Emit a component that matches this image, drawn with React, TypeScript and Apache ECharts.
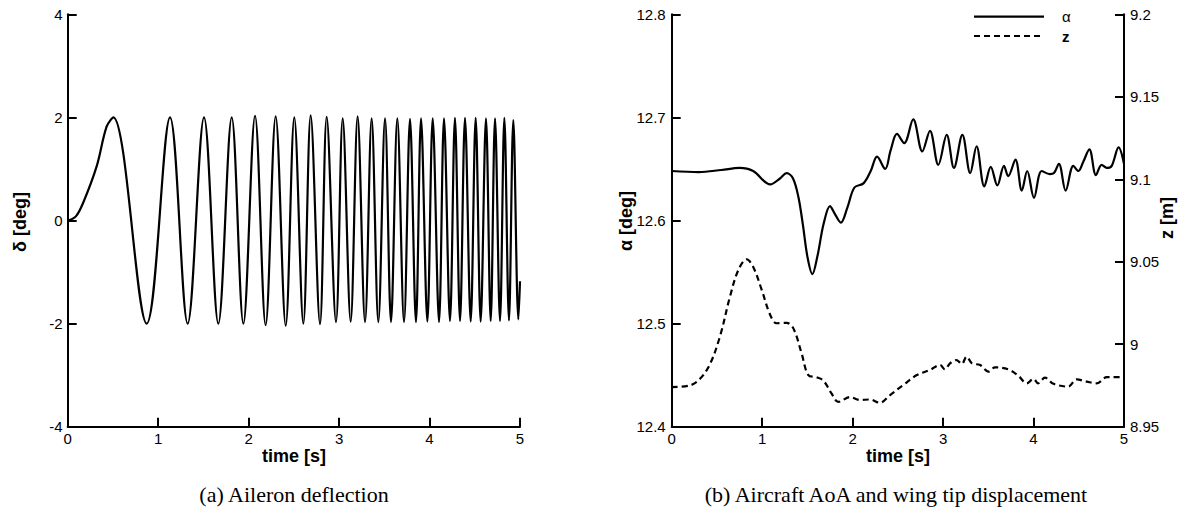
import { useEffect, useRef } from "react";
import * as echarts from "echarts";

// ---- data ----
const timeTicks = [0, 1, 2, 3, 4, 5];

// aileron deflection: start-up ramp, then successive peaks / troughs of the sweep
const deltaTime = [
  0, 0.09, 0.17, 0.32, 0.43, 0.504, 0.873, 1.131, 1.326, 1.507, 1.665, 1.813, 1.942, 2.071, 2.188,
  2.299, 2.41, 2.505, 2.605, 2.686, 2.789, 2.863, 2.966, 3.04, 3.128, 3.205, 3.287, 3.36, 3.434,
  3.508, 3.574, 3.644, 3.718, 3.784, 3.85, 3.906, 3.976, 4.035, 4.105, 4.16, 4.226, 4.281, 4.337,
  4.392, 4.455, 4.51, 4.565, 4.624, 4.676, 4.724, 4.779, 4.827, 4.878, 4.926, 4.982, 5.0,
];
const deltaDeg = [
  0, 0.08, 0.34, 1.05, 1.82, 2.0, -2.0, 2.0, -2.0, 2.0, -2.0, 2.0, -2.0, 2.03, -2.03,
  2.02, -2.04, 2.0, -2.0, 2.04, -2.01, 2.01, -1.97, 1.98, -1.96, 2.02, -1.97, 1.98, -1.97,
  1.98, -1.97, 1.98, -1.97, 1.97, -1.97, 1.98, -1.96, 1.98, -1.97, 1.98, -1.95, 1.99, -1.95,
  1.99, -1.96, 1.99, -1.96, 1.98, -1.95, 1.98, -1.95, 1.99, -1.94, 1.95, -1.92, -1.18,
];

// aircraft angle of attack
const alphaTime = [
  0, 0.3, 0.55, 0.75, 0.9, 1.09, 1.2, 1.27, 1.34, 1.4, 1.45, 1.5, 1.555, 1.61, 1.68, 1.75, 1.8,
  1.87, 1.94, 2.02, 2.12, 2.2, 2.27, 2.36, 2.42, 2.49, 2.57, 2.67, 2.77, 2.855, 2.947, 3.04, 3.12,
  3.213, 3.3, 3.37, 3.456, 3.527, 3.6, 3.673, 3.72, 3.8, 3.87, 3.93, 4.005, 4.09, 4.18, 4.226,
  4.28, 4.355, 4.44, 4.496, 4.55, 4.617, 4.69, 4.753, 4.81, 4.864, 4.94, 5.0,
];
const alphaDeg = [
  12.648, 12.647, 12.649, 12.651, 12.648, 12.635, 12.641, 12.646, 12.641, 12.623, 12.596, 12.565,
  12.548, 12.565, 12.597, 12.614, 12.607, 12.598, 12.612, 12.632, 12.636, 12.648, 12.662, 12.65,
  12.668, 12.684, 12.675, 12.698, 12.667, 12.687, 12.654, 12.683, 12.651, 12.683, 12.646, 12.672,
  12.633, 12.652, 12.634, 12.653, 12.643, 12.659, 12.629, 12.648, 12.622, 12.648, 12.645, 12.646,
  12.655, 12.629, 12.653, 12.648, 12.657, 12.669, 12.644, 12.654, 12.651, 12.653, 12.671, 12.655,
];

// wing tip displacement
const zTime = [
  0, 0.2, 0.313, 0.424, 0.535, 0.645, 0.737, 0.829, 0.9, 0.995, 1.087, 1.16, 1.27, 1.345, 1.436,
  1.51, 1.6, 1.676, 1.768, 1.842, 1.97, 2.08, 2.19, 2.3, 2.41, 2.56, 2.71, 2.855, 2.966, 3.02,
  3.077, 3.15, 3.206, 3.26, 3.32, 3.41, 3.5, 3.574, 3.72, 3.83, 3.925, 4.0, 4.05, 4.126, 4.22,
  4.384, 4.476, 4.59, 4.7, 4.81, 4.955, 5.0,
];
const zMeters = [
  8.974, 8.975, 8.979, 8.988, 9.005, 9.029, 9.045, 9.0515, 9.047, 9.033, 9.018, 9.0127, 9.013,
  9.0096, 8.9945, 8.9813, 8.98, 8.978, 8.97, 8.965, 8.968, 8.9662, 8.9665, 8.9645, 8.969, 8.9753,
  8.9813, 8.9844, 8.9874, 8.9848, 8.9884, 8.9904, 8.988, 8.9924, 8.9884, 8.9874, 8.9834, 8.986,
  8.9848, 8.981, 8.9763, 8.979, 8.9763, 8.9797, 8.976, 8.9743, 8.9787, 8.9773, 8.9763, 8.98, 8.98,
  8.98,
];

const pairs = (xs: number[], ys: number[]) => xs.map((x, i) => [x, ys[i]]);

const SANS = '"Liberation Sans", Arial, sans-serif';
const SERIF = '"Liberation Serif", "Times New Roman", serif';

const axisLine = { show: true, onZero: false, lineStyle: { color: "#000", width: 2 } };
const axisTick = { show: true, inside: true, length: 9, lineStyle: { color: "#000", width: 2 } };
const labelBase = { color: "#000", fontFamily: SANS, fontSize: 15 };

const grids = [
  { left: 67.7, top: 14.3, width: 452.3, height: 412.4 },
  { left: 671.7, top: 14.3, width: 452.3, height: 412.4 },
];

const timeAxis = (gridIndex: number) => ({
  type: "value",
  gridIndex,
  min: timeTicks[0],
  max: timeTicks[timeTicks.length - 1],
  interval: 1,
  axisLine,
  axisTick,
  axisLabel: { ...labelBase, margin: 4 },
  splitLine: { show: false },
});

const titleText = (text: string, x: number, y: number, rotated = false) => ({
  type: "text",
  x,
  y,
  rotation: rotated ? Math.PI / 2 : 0,
  style: {
    text,
    fill: "#000",
    font: `bold 18px ${SANS}`,
    align: "center",
    verticalAlign: "middle",
  },
});

const captionText = (text: string, x: number, y: number) => ({
  type: "text",
  x,
  y,
  style: { text, fill: "#000", font: `22px ${SERIF}`, align: "center", verticalAlign: "middle" },
});

const option = {
  animation: false,
  backgroundColor: "#fff",
  grid: grids,
  xAxis: [timeAxis(0), timeAxis(1)],
  yAxis: [
    {
      type: "value",
      gridIndex: 0,
      min: -4,
      max: 4,
      interval: 2,
      axisLine,
      axisTick,
      axisLabel: { ...labelBase, margin: 5 },
      splitLine: { show: false },
    },
    {
      type: "value",
      gridIndex: 1,
      min: 12.4,
      max: 12.8,
      interval: 0.1,
      axisLine,
      axisTick,
      axisLabel: { ...labelBase, margin: 6 },
      splitLine: { show: false },
    },
    {
      type: "value",
      gridIndex: 1,
      position: "right",
      min: 8.95,
      max: 9.2,
      interval: 0.05,
      axisLine,
      axisTick,
      axisLabel: { ...labelBase, margin: 6 },
      splitLine: { show: false },
    },
  ],
  series: [
    {
      name: "δ",
      type: "line",
      xAxisIndex: 0,
      yAxisIndex: 0,
      data: pairs(deltaTime, deltaDeg),
      showSymbol: false,
      symbol: "none",
      smooth: 0.35,
      lineStyle: { color: "#000", width: 2.2 },
    },
    {
      name: "α",
      type: "line",
      xAxisIndex: 1,
      yAxisIndex: 1,
      data: pairs(alphaTime, alphaDeg),
      showSymbol: false,
      symbol: "none",
      smooth: 0.35,
      lineStyle: { color: "#000", width: 2.2 },
    },
    {
      name: "z",
      type: "line",
      xAxisIndex: 1,
      yAxisIndex: 2,
      data: pairs(zTime, zMeters),
      showSymbol: false,
      symbol: "none",
      smooth: 0.35,
      lineStyle: { color: "#000", width: 2.2, type: [6, 4] },
    },
  ],
  graphic: [
    titleText("δ [deg]", 20, 222, true),
    titleText("time [s]", 294, 456),
    titleText("α [deg]", 626, 221, true),
    titleText("time [s]", 898, 456),
    titleText("z [m]", 1167, 218, true),
    captionText("(a) Aileron deflection", 294, 494),
    captionText("(b) Aircraft AoA and wing tip displacement", 896, 494),
    // legend
    { type: "line", shape: { x1: 974, y1: 16.7, x2: 1044, y2: 16.7 }, style: { stroke: "#000", lineWidth: 2.2 } },
    {
      type: "text",
      x: 1062,
      y: 16.7,
      style: { text: "α", fill: "#000", font: `15px ${SANS}`, align: "left", verticalAlign: "middle" },
    },
    {
      type: "line",
      shape: { x1: 974, y1: 36, x2: 1044, y2: 36 },
      style: { stroke: "#000", lineWidth: 2.2, lineDash: [6, 4] },
    },
    {
      type: "text",
      x: 1062,
      y: 36,
      style: { text: "z", fill: "#000", font: `bold 15px ${SANS}`, align: "left", verticalAlign: "middle" },
    },
  ],
};

export default function App() {
  const ref = useRef<HTMLDivElement>(null);
  useEffect(() => {
    const chart = echarts.init(ref.current as HTMLDivElement, null, { renderer: "svg" });
    chart.setOption(option as any);
    return () => chart.dispose();
  }, []);
  return (
    <div
      ref={ref}
      style={{ position: "absolute", left: 0, top: 0, width: 1179, height: 521, background: "#fff" }}
    />
  );
}
